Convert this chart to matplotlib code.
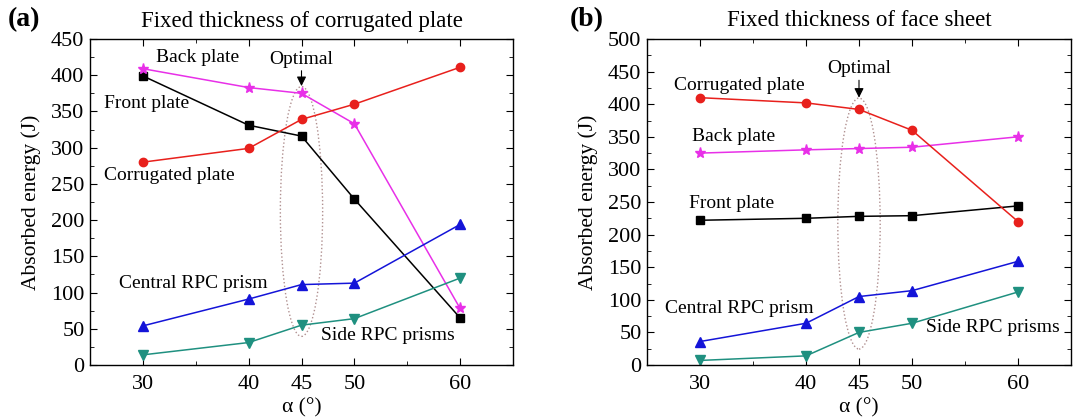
import numpy as np
import matplotlib.pyplot as plt
from matplotlib.patches import Ellipse
from matplotlib.ticker import MultipleLocator

plt.rcParams['font.family'] = ['Liberation Serif', 'DejaVu Serif']

alpha = [30, 40, 45, 50, 60]

# panel (a): fixed thickness of corrugated plate
a_front = [399, 331, 316, 229, 65]
a_back = [409, 383, 375, 333, 78]
a_corr = [280, 299, 339, 360, 411]
a_central = [54, 91, 111, 113, 194]
a_side = [14, 31, 55, 64, 120]

# panel (b): fixed thickness of face sheet
b_front = [222, 225, 228, 229, 244]
b_back = [325, 330, 332, 334, 350]
b_corr = [410, 402, 392, 360, 220]
b_central = [36, 64, 105, 114, 159]
b_side = [7, 14, 50, 64, 112]

fig = plt.figure(figsize=(10.83, 4.17), dpi=100)
ax1 = fig.add_axes([90/1083, 52/417, 423/1083, 326/417])
ax2 = fig.add_axes([647/1083, 52/417, 424/1083, 326/417])

def draw(ax, front, back, corr, central, side):
    ms = 6
    ax.plot(alpha, front, '-s', color='black', ms=ms-0.5, lw=1.1)
    ax.plot(alpha, back, '-*', color='#e830e8', ms=ms+2, lw=1.1)
    ax.plot(alpha, corr, '-o', color='#e8201c', ms=ms, lw=1.1)
    ax.plot(alpha, central, '-^', color='#1414d8', ms=ms+0.5, lw=1.1)
    ax.plot(alpha, side, '-v', color='#1f9080', ms=ms+0.5, lw=1.1)
    ax.set_xlim(25, 65)
    ax.set_xticks(alpha)
    ax.xaxis.set_minor_locator(MultipleLocator(5))
    ax.yaxis.set_major_locator(MultipleLocator(50))
    ax.yaxis.set_minor_locator(MultipleLocator(25))
    ax.tick_params(which='both', direction='in', top=True, right=True, labelsize=16)
    ax.tick_params(axis='x', pad=7)
    ax.tick_params(axis='y', pad=4)
    ax.tick_params(which='major', length=5)
    ax.tick_params(which='minor', length=3)
    ax.set_xlabel('α (°)', fontsize=15.5, labelpad=3)
    ax.set_ylabel('Absorbed energy (J)', fontsize=15.5, labelpad=7)
    for s in ax.spines.values():
        s.set_linewidth(1.0)

draw(ax1, a_front, a_back, a_corr, a_central, a_side)
ax1.set_ylim(0, 450)
ax1.set_title('Fixed thickness of corrugated plate', fontsize=16.5, pad=9)
ax1.add_patch(Ellipse((45, 212), 4, 345, fill=False, ls=':', lw=1.0, ec='#b09090'))
ax1.annotate('Optimal', xy=(45, 385), xytext=(45, 410), ha='center', va='bottom', fontsize=14,
             arrowprops=dict(arrowstyle='-|>', color='black', lw=0.8, shrinkA=0, shrinkB=0))
tk = dict(fontsize=14, va='center')
ax1.text(35.2, 424, 'Back plate', ha='center', **tk)
ax1.text(26.3, 361, 'Front plate', **tk)
ax1.text(26.3, 262, 'Corrugated plate', **tk)
ax1.text(27.7, 113, 'Central RPC prism', **tk)
ax1.text(46.8, 41, 'Side RPC prisms', **tk)

draw(ax2, b_front, b_back, b_corr, b_central, b_side)
ax2.set_ylim(0, 500)
ax2.set_title('Fixed thickness of face sheet', fontsize=16.5, pad=9)
ax2.add_patch(Ellipse((45, 217), 4, 385, fill=False, ls=':', lw=1.0, ec='#b09090'))
ax2.annotate('Optimal', xy=(45, 410), xytext=(45, 441), ha='center', va='bottom', fontsize=14,
             arrowprops=dict(arrowstyle='-|>', color='black', lw=0.8, shrinkA=0, shrinkB=0))
ax2.text(27.5, 429, 'Corrugated plate', **tk)
ax2.text(29.2, 350, 'Back plate', **tk)
ax2.text(29.0, 248, 'Front plate', **tk)
ax2.text(26.7, 86, 'Central RPC prism', **tk)
ax2.text(51.3, 57, 'Side RPC prisms', **tk)

fig.text(8/1083, 1 - 20/417, '(a)', fontsize=20, fontweight='bold', va='center')
fig.text(570/1083, 1 - 20/417, '(b)', fontsize=20, fontweight='bold', va='center')

plt.savefig('out.png', dpi=100)
